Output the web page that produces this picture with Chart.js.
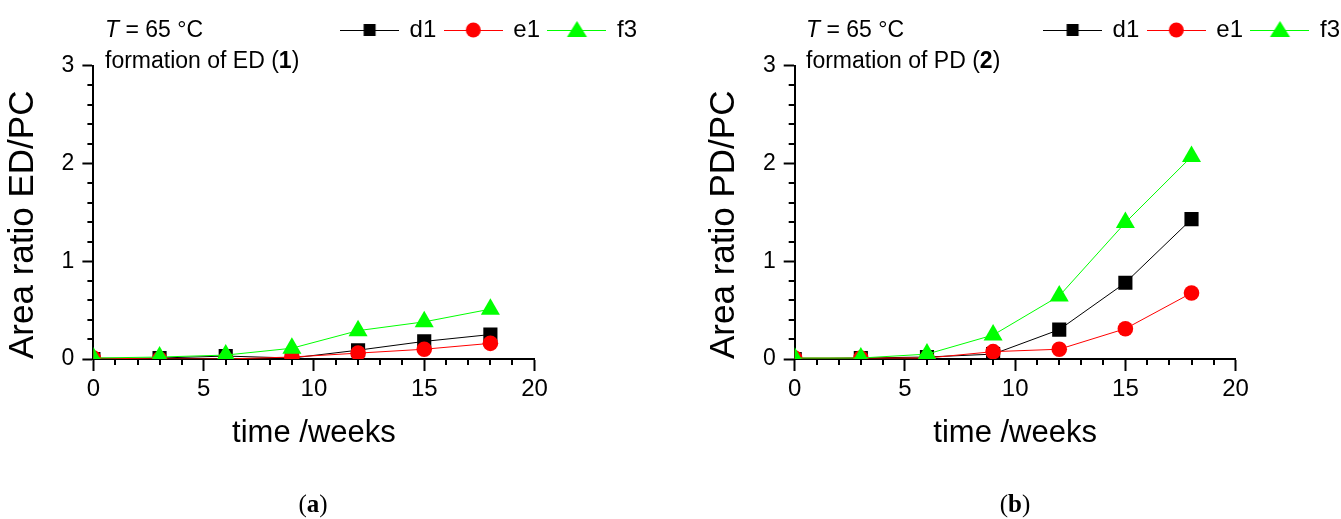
<!DOCTYPE html>
<html>
<head>
<meta charset="utf-8">
<script src="https://cdn.jsdelivr.net/npm/chart.js@4/dist/chart.umd.min.js"></script>
<style>
  html, body { margin: 0; padding: 0; background: #fff; overflow: hidden; }
  #page { position: relative; width: 1341px; height: 519px; overflow: hidden; }
  .box { position: absolute; top: 0; }
  .note { position: absolute; font-family: 'Liberation Sans', Arial, sans-serif; font-size: 23px;
          line-height: 1; color: #000; white-space: nowrap; transform: translateY(-50%); }
  .tag { position: absolute; font-family: 'Liberation Serif', 'Times New Roman', serif; font-size: 25px;
         line-height: 1; color: #000; transform: translate(-50%, -50%); }
</style>
</head>
<body>
<div id="page">
  <div class="box" style="left:0px"><canvas id="chartA" width="646" height="519"></canvas></div>
  <div class="box" style="left:701px"><canvas id="chartB" width="648" height="519"></canvas></div>

  <div class="note" style="left:105px; top:29px"><i>T</i> = 65 °C</div>
  <div class="note" style="left:105px; top:60px">formation of ED (<b>1</b>)</div>
  <div class="note" style="left:806px; top:29px"><i>T</i> = 65 °C</div>
  <div class="note" style="left:806px; top:60px">formation of PD (<b>2</b>)</div>

  <div class="tag" style="left:313px; top:503px">(<b>a</b>)</div>
  <div class="tag" style="left:1015px; top:503px">(<b>b</b>)</div>
</div>

<script>
// time points (weeks)
const weeks = [0, 3, 6, 9, 12, 15, 18];
const seriesNames = ['d1', 'e1', 'f3'];

// (a) area ratio ED/PC
const edD1 = [0, 0.01, 0.03, 0.01, 0.09, 0.18, 0.25];
const edE1 = [0.01, 0, 0, 0.02, 0.06, 0.10, 0.16];
const edF3 = [0.01, 0.02, 0.04, 0.11, 0.29, 0.38, 0.51];

// (b) area ratio PD/PC
const pdD1 = [0, 0.01, 0.02, 0.05, 0.30, 0.78, 1.43];
const pdE1 = [0.01, 0.01, 0.01, 0.075, 0.10, 0.31, 0.675];
const pdF3 = [0.01, 0.01, 0.05, 0.245, 0.645, 1.395, 2.07];

// labelled (major) ticks
const xTicks = [0, 5, 10, 15, 20];
const yTicks = [0, 1, 2, 3];

const FONT = "'Liberation Sans', Arial, sans-serif";
const lineColors = ['#000000', '#ff0000', '#00ff00'];
const markerColors = ['#000000', '#ff0000', '#00ff00'];
const markerStyles = ['rect', 'circle', 'triangle'];
const markerRadii = [10, 7.8, 11];

const isMajorY = v => yTicks.some(t => Math.abs(t - v) < 1e-6);

// small line+marker pictures for the legend
function legendIcon(i) {
  const c = document.createElement('canvas');
  c.width = 59; c.height = 26;
  const g = c.getContext('2d');
  g.strokeStyle = lineColors[i];
  g.lineWidth = 1;
  g.beginPath(); g.moveTo(0, 13.5); g.lineTo(59, 13.5); g.stroke();
  g.fillStyle = markerColors[i];
  g.beginPath();
  if (i === 0) g.rect(23.5, 7, 12, 12);
  else if (i === 1) g.arc(29.5, 13, 7.5, 0, Math.PI * 2);
  else { g.moveTo(29.5, 4); g.lineTo(39.5, 20); g.lineTo(19.5, 20); g.closePath(); }
  g.fill();
  return c;
}
const icons = seriesNames.map((n, i) => legendIcon(i));

// minor ticks between the labelled ones
const minorTicks = {
  id: 'minorTicks',
  afterDraw(chart) {
    const ctx = chart.ctx;
    const xs = chart.scales.x, ys = chart.scales.y;
    ctx.save();
    ctx.strokeStyle = '#000';
    ctx.lineWidth = 2;
    ctx.beginPath();
    xs.ticks.forEach(t => {
      if (xTicks.includes(t.value)) return;
      const p = Math.round(xs.getPixelForValue(t.value));
      ctx.moveTo(p, xs.top); ctx.lineTo(p, xs.top + 6);
    });
    ys.ticks.forEach(t => {
      if (isMajorY(t.value)) return;
      const p = Math.round(ys.getPixelForValue(t.value));
      ctx.moveTo(ys.right - 6, p); ctx.lineTo(ys.right, p);
    });
    ctx.stroke();
    ctx.restore();
  }
};

function buildChart(id, cfg) {
  const series = cfg.series;
  const datasets = seriesNames.map((name, i) => ({
    label: name,
    data: weeks.map((w, k) => ({ x: w, y: series[i][k] })),
    xAxisID: 'x',
    yAxisID: 'y',
    borderColor: lineColors[i],
    borderWidth: 1,
    backgroundColor: markerColors[i],
    pointBackgroundColor: markerColors[i],
    pointBorderColor: markerColors[i],
    pointBorderWidth: 0,
    pointStyle: markerStyles[i],
    pointRadius: markerRadii[i],
    pointHoverRadius: markerRadii[i],
    tension: 0,
    order: 2 - i
  }));

  return new Chart(document.getElementById(id), {
    type: 'line',
    data: { datasets },
    plugins: [minorTicks],
    options: {
      responsive: false,
      animation: false,
      events: [],
      layout: { padding: { top: 9, left: 0, right: 0, bottom: 60 } },
      plugins: {
        tooltip: { enabled: false },
        legend: {
          display: true,
          position: 'top',
          align: 'end',
          labels: {
            usePointStyle: true,
            pointStyleWidth: 56,
            padding: 9,
            color: '#000',
            font: { family: FONT, size: 24 },
            sort: (a, b) => a.datasetIndex - b.datasetIndex,
            generateLabels: chart =>
              Chart.defaults.plugins.legend.labels.generateLabels(chart)
                .map(l => Object.assign(l, { pointStyle: icons[l.datasetIndex] }))
          }
        }
      },
      scales: {
        x: {
          type: 'linear',
          position: 'bottom',
          min: 0,
          max: 20,
          afterFit: s => { s.height = 100; },
          ticks: {
            stepSize: 1,
            autoSkip: false,
            maxRotation: 0,
            padding: 4,
            color: '#000',
            font: { family: FONT, size: 24 },
            callback: v => xTicks.includes(v) ? String(v) : ''
          },
          grid: {
            drawOnChartArea: false,
            tickLength: 12,
            tickWidth: 2,
            tickColor: c => xTicks.includes(c.tick.value) ? '#000' : 'rgba(0,0,0,0)'
          },
          border: { display: true, color: '#000', width: 2 },
          title: {
            display: true,
            text: 'time /weeks',
            color: '#000',
            font: { family: FONT, size: 31 },
            padding: { top: 0, bottom: 7 }
          }
        },
        y: {
          type: 'linear',
          position: 'left',
          min: 0,
          max: 3,
          afterFit: s => { s.width = cfg.yWidth; },
          ticks: {
            stepSize: 0.2,
            autoSkip: false,
            padding: 8,
            color: '#000',
            font: { family: FONT, size: 23 },
            callback: v => isMajorY(v) ? String(Math.round(v)) : ''
          },
          grid: {
            drawOnChartArea: false,
            tickLength: 11,
            tickWidth: 2,
            tickColor: c => isMajorY(c.tick.value) ? '#000' : 'rgba(0,0,0,0)'
          },
          border: { display: true, color: '#000', width: 2 },
          title: {
            display: true,
            text: cfg.yTitle,
            align: 'start',
            color: '#000',
            font: { family: FONT, size: 35 },
            padding: { top: 2, bottom: 0 }
          }
        },
        gapTop: {
          type: 'linear', axis: 'x', position: 'top', display: true,
          ticks: { display: false }, grid: { display: false }, border: { display: false },
          afterFit: s => { s.height = 13.7; }
        },
        gapRight: {
          type: 'linear', axis: 'y', position: 'right', display: true,
          ticks: { display: false }, grid: { display: false }, border: { display: false },
          afterFit: s => { s.width = cfg.gapRight; }
        }
      }
    }
  });
}

buildChart('chartA', { series: [edD1, edE1, edF3], yTitle: 'Area ratio ED/PC', yWidth: 93.4, gapRight: 111.5 });
buildChart('chartB', { series: [pdD1, pdE1, pdF3], yTitle: 'Area ratio PD/PC', yWidth: 93.7, gapRight: 113.4 });
</script>
</body>
</html>
